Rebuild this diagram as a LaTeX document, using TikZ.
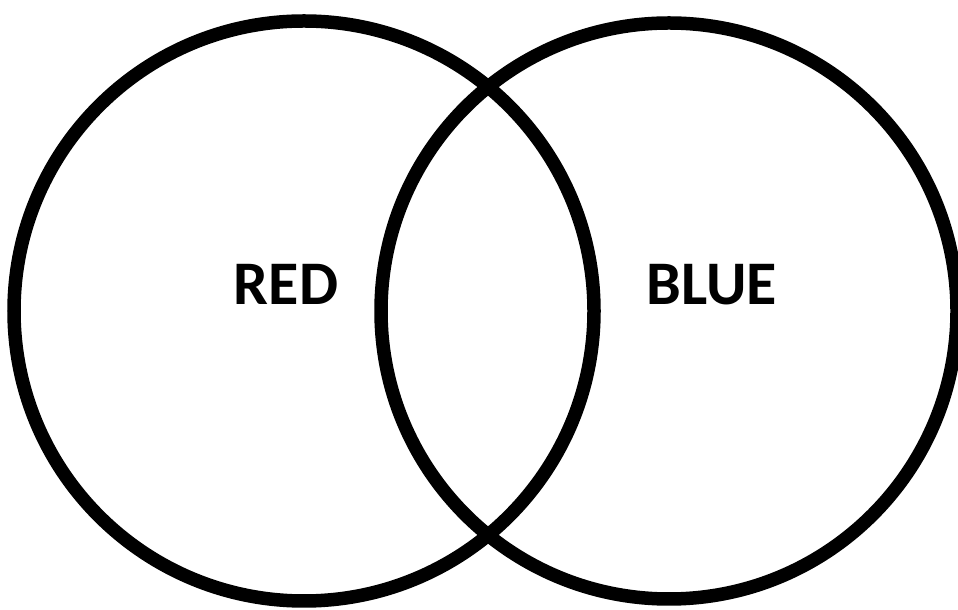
\documentclass[tikz,border=0pt]{standalone}
\usepackage{fontspec}
\setmainfont{Carlito}
\begin{document}
\begin{tikzpicture}[x=1pt,y=1pt,
  ring/.style={draw=black,circle,line width=13.5pt,inner sep=0pt,fill=none},
  lbl/.style={font=\bfseries\fontsize{62}{62}\selectfont,anchor=base,inner sep=0pt}]
\useasboundingbox (0,0) rectangle (958,610);
\node[ring,minimum size=580pt] (red) at (304,299) {};
\node[ring,minimum size=576pt] (blue) at (669,299) {};
\node[lbl] (redlbl) at (286,305) {RED};
\node[lbl] (bluelbl) at (712,305) {BLUE};
\end{tikzpicture}
\end{document}
